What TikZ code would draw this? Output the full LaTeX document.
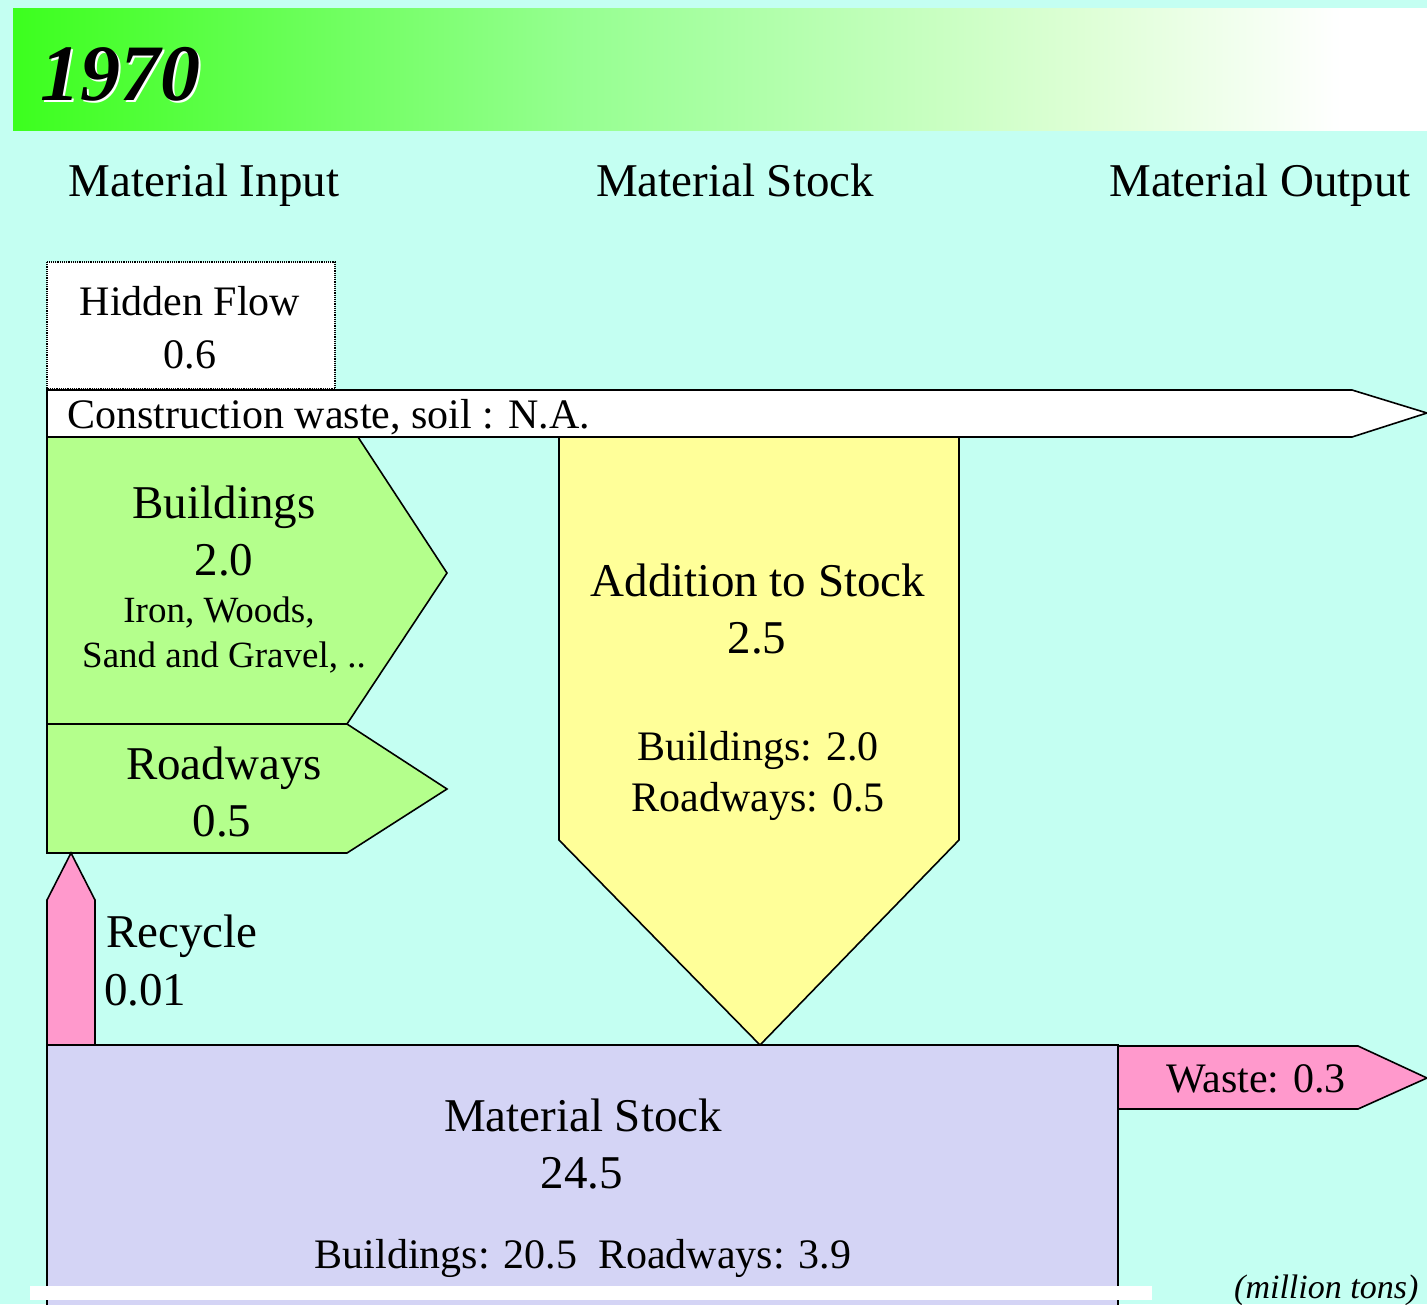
\documentclass[tikz,border=0pt]{standalone}
\usepackage{fontspec}
\setmainfont{Liberation Serif}
\definecolor{bgc}{RGB}{196,255,242}
\definecolor{gA}{RGB}{60,255,30}
\definecolor{gB}{RGB}{150,255,145}
\definecolor{gC}{RGB}{222,255,214}
\definecolor{grn}{RGB}{180,255,140}
\definecolor{ylw}{RGB}{255,255,153}
\definecolor{pnk}{RGB}{255,153,204}
\definecolor{lav}{RGB}{212,212,245}
\pgfdeclarehorizontalshading{banner}{100bp}{color(0bp)=(gA); color(25bp)=(gA); color(45bp)=(gB); color(63bp)=(gC); color(72bp)=(white); color(100bp)=(white)}
\tikzset{
  big/.style={font=\fontsize{47}{56}\selectfont, inner sep=0pt, anchor=base},
  mid/.style={font=\fontsize{42}{50}\selectfont, inner sep=0pt, anchor=base},
  sml/.style={font=\fontsize{37}{44}\selectfont, inner sep=0pt, anchor=base},
  shp/.style={draw=black, line width=1.6pt, line join=miter},
}
\begin{document}
\begin{tikzpicture}[x=1pt,y=-1pt]
\fill[bgc] (0,0) rectangle (1427,1304);
\useasboundingbox (0,0) rectangle (1427,1304);
% banner
\shade[shading=banner] (13,8) rectangle (1427,130);
\node[font=\fontsize{80}{90}\selectfont\bfseries\itshape, text=white, inner sep=0pt, anchor=base] (yearshadow) at (122.5,102) {1970};
\node[font=\fontsize{80}{90}\selectfont\bfseries\itshape, text=black, inner sep=0pt, anchor=base] (year) at (120,100) {1970};
% headers
\node[big] (hin) at (204,196) {Material Input};
\node[big] (hst) at (735,196) {Material Stock};
\node[big] (hout) at (1260,196) {Material Output};
% hidden flow
\fill[white] (47,262) rectangle (335,389);
\draw[black, densely dotted, line width=1.2pt] (47,262) rectangle (335,389);
\node[mid] (hf) at (190,315) {Hidden Flow};
\node[mid] (hfv) at (190,368) {0.6};
% construction waste arrow
\draw[shp, fill=white] (47,390) -- (1352,390) -- (1427,413) -- (1352,437) -- (47,437) -- cycle;
\node[mid, anchor=base west] (cw) at (67,428) {Construction waste, soil : N.A.};
% buildings
\draw[shp, fill=grn] (47,437) -- (358,437) -- (447,573) -- (347,724) -- (47,724) -- cycle;
\node[big] (bl) at (224,518) {Buildings};
\node[big] (blv) at (224,575) {2.0};
\node[sml] (bl1) at (219,622) {Iron, Woods,};
\node[sml] (bl2) at (224,667) {Sand and Gravel, ..};
% roadways
\draw[shp, fill=grn] (47,724) -- (347,724) -- (447,789) -- (347,853) -- (47,853) -- cycle;
\node[big] (rw) at (224,779) {Roadways};
\node[big] (rwv) at (222,836) {0.5};
% addition to stock
\draw[shp, fill=ylw] (559,437) -- (959,437) -- (959,840) -- (760,1045) -- (559,840) -- cycle;
\node[big] (ad) at (758,596) {Addition to Stock};
\node[big] (adv) at (757,653) {2.5};
\node[mid] (ad1) at (758,760) {Buildings: 2.0};
\node[mid] (ad2) at (758,811) {Roadways: 0.5};
% recycle
\draw[shp, fill=pnk] (47,1045) -- (47,900) -- (71,853) -- (95,900) -- (95,1045) -- cycle;
\node[big, anchor=base west] (rc) at (106,947) {Recycle};
\node[big, anchor=base west] (rcv) at (104,1005) {0.01};
% material stock
\draw[shp, fill=lav] (47,1320) -- (47,1045) -- (1118,1045) -- (1118,1320);
\node[big] (ms) at (583,1131) {Material Stock};
\node[big] (msv) at (582,1188) {24.5};
\node[mid] (ms1) at (583,1268) {Buildings: 20.5\ \ Roadways: 3.9};
% waste
\draw[shp, fill=pnk] (1118,1046) -- (1358,1046) -- (1427,1078) -- (1358,1109) -- (1118,1109) -- cycle;
\node[mid] (ws) at (1256,1092) {Waste: 0.3};
% bottom strip
\fill[white] (30,1286) rectangle (1152,1300);
\node[font=\fontsize{34}{40}\selectfont\itshape, inner sep=0pt, anchor=base west] (unit) at (1234,1298) {(million tons)};
\end{tikzpicture}
\end{document}
